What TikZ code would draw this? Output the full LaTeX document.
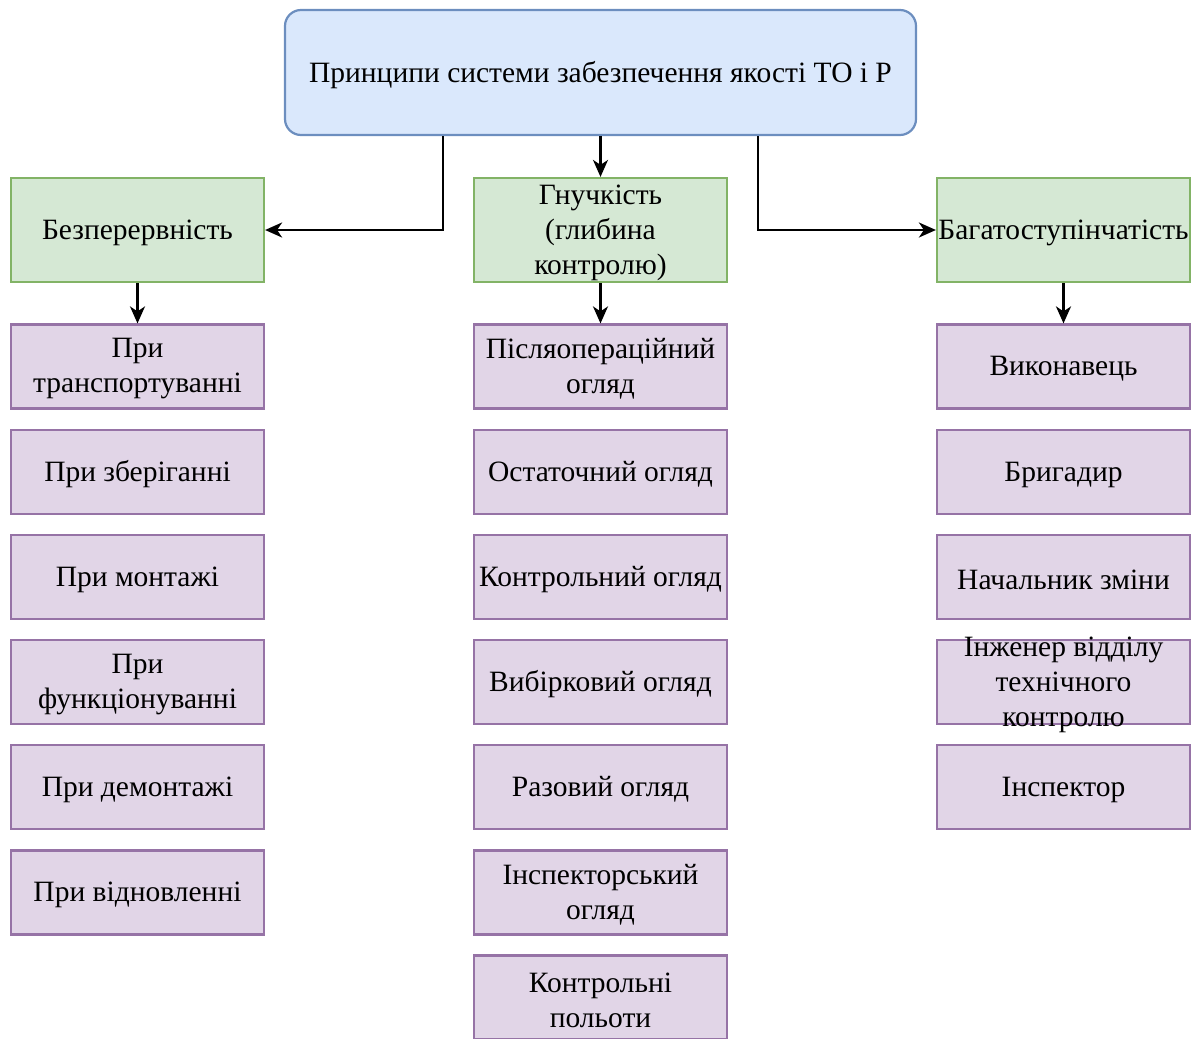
\documentclass[tikz,border=0pt]{standalone}
\usepackage{fontspec}
\setmainfont{Liberation Serif}
\usetikzlibrary{arrows.meta,positioning}
\definecolor{topfill}{HTML}{DAE8FC}
\definecolor{topline}{HTML}{6C8EBF}
\definecolor{grfill}{HTML}{D5E8D4}
\definecolor{grline}{HTML}{82B366}
\definecolor{pufill}{HTML}{E1D5E7}
\definecolor{puline}{HTML}{9673A6}
\tikzset{
  every node/.style={font=\fontsize{29.5}{35}\selectfont, text=black, align=center, inner sep=0pt},
  boxtext/.style={label={[name=\tikzlastnode-t, yshift=-2.5pt]center:{#1}}},
  topbox/.style={draw=topline, fill=topfill, line width=2.2pt, rounded corners=16pt,
    minimum width=631pt, minimum height=125pt, boxtext={#1}},
  grbox/.style={draw=grline, fill=grfill, line width=2.2pt,
    minimum width=253pt, minimum height=104pt, boxtext={#1}},
  pubox/.style={draw=puline, fill=pufill, line width=2.2pt,
    minimum width=253pt, minimum height=84pt, boxtext={#1}},
  conn/.style={draw=black, line width=2.2pt, -{Stealth[length=17pt,width=15pt,inset=5pt]}}
}
\begin{document}
\begin{tikzpicture}[x=1pt,y=-1pt]
\useasboundingbox (0,0) rectangle (1200,1039);

% root
\node[topbox={Принципи системи забезпечення якості ТО і Р}] (root) at (600.5,72.5) {};

% principles
\node[grbox={Безперервність}] (g1) at (137.5,230) {};
\node[grbox={Гнучкість\\(глибина\\контролю)}] (g2) at (600.5,230) {};
\node[grbox={Багатоступінчатість}] (g3) at (1063.5,230) {};

% first column
\node[pubox={При\\транспортуванні}] (a1) at (137.5,366.5) {};
\node[pubox={При зберіганні}] (a2) at (137.5,472) {};
\node[pubox={При монтажі}] (a3) at (137.5,577) {};
\node[pubox={При\\функціонуванні}] (a4) at (137.5,682) {};
\node[pubox={При демонтажі}] (a5) at (137.5,787) {};
\node[pubox={При відновленні}] (a6) at (137.5,892.5) {};

% second column
\node[pubox={Післяопераційний\\огляд}] (b1) at (600.5,366.5) {};
\node[pubox={Остаточний огляд}] (b2) at (600.5,472) {};
\node[pubox={Контрольний огляд}] (b3) at (600.5,577) {};
\node[pubox={Вибірковий огляд}] (b4) at (600.5,682) {};
\node[pubox={Разовий огляд}] (b5) at (600.5,787) {};
\node[pubox={Інспекторський\\огляд}] (b6) at (600.5,892.5) {};
\node[pubox={Контрольні\\польоти}] (b7) at (600.5,997.5) {};

% third column
\node[pubox={Виконавець}] (c1) at (1063.5,366.5) {};
\node[pubox={Бригадир}] (c2) at (1063.5,472) {};
\node[pubox={Начальник зміни}] (c3) at (1063.5,577) {};
\node[pubox={Інженер відділу\\технічного\\контролю}] (c4) at (1063.5,682) {};
\node[pubox={Інспектор}] (c5) at (1063.5,787) {};

% connectors
\draw[conn] (root.south -| 443,0) |- (g1.east);
\draw[conn] (root.south) -- (g2.north);
\draw[conn] (root.south -| 758,0) |- (g3.west);
\draw[conn] (g1.south) -- (a1.north);
\draw[conn] (g2.south) -- (b1.north);
\draw[conn] (g3.south) -- (c1.north);
\end{tikzpicture}
\end{document}
